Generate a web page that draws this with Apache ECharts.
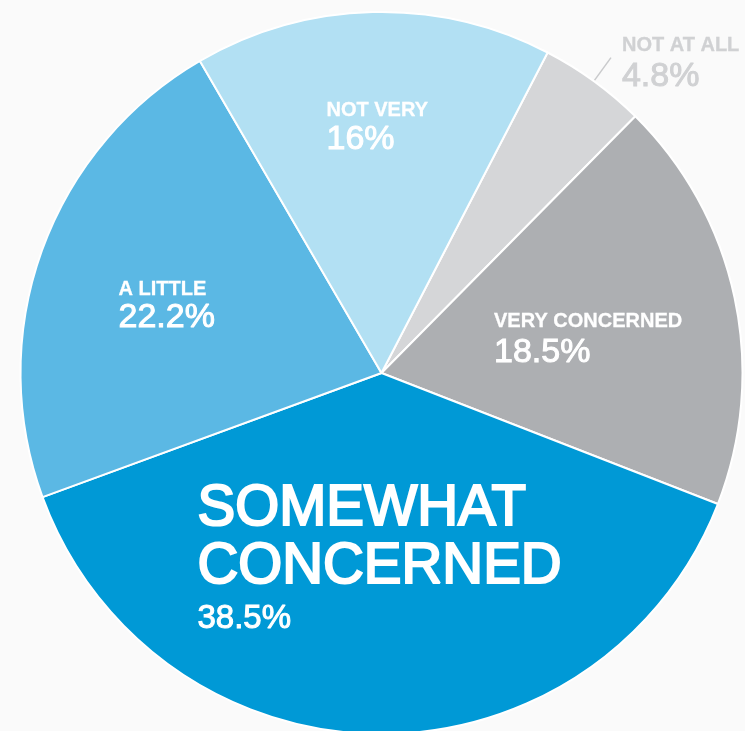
<!DOCTYPE html>
<html>
<head>
<meta charset="utf-8">
<script src="https://cdn.jsdelivr.net/npm/echarts@6/dist/echarts.min.js"></script>
<style>
  html, body { margin: 0; padding: 0; background: #fafafa; }
  #chart { width: 745px; height: 731px; }
</style>
</head>
<body>
<div id="chart"></div>
<script>
// Level of concern, share of respondents (%), clockwise from the small grey slice
const categories = ['NOT AT ALL', 'VERY CONCERNED', 'SOMEWHAT CONCERNED', 'A LITTLE', 'NOT VERY'];
const shares = [4.8, 18.5, 38.5, 22.2, 16];
const sliceColors = ['#d5d6d8', '#adafb2', '#0099d6', '#5bb8e4', '#b2e0f3'];

// Where each inside label block starts (top-left); the first label sits outside on a leader line
const labelSpots = [null, [494, 307], [197.5, 480], [118.5, 277], [326.5, 98.5]];
// Rich-text style used for each slice's name line
const nameKeys = ['nw', 'nw', 'big', 'n', 'n'];

const FONT = '"Liberation Sans", Arial, sans-serif';
const chart = echarts.init(document.getElementById('chart'), null, { renderer: 'canvas' });

const data = categories.map((name, i) => {
  const textColor = i === 0 ? '#d0d1d3' : '#ffffff';
  return {
    name,
    value: shares[i],
    itemStyle: { color: sliceColors[i] },
    label: i === 0
      ? { position: 'outside', color: textColor, textBorderColor: textColor, padding: [9, 0, 0, 0] }
      : { position: 'inside', color: textColor, textBorderColor: textColor },
    labelLine: { show: i === 0 }
  };
});

chart.setOption({
  backgroundColor: '#fafafa',
  animation: false,
  series: [{
    type: 'pie',
    center: [381.5, 373],
    radius: 361,
    startAngle: 62.6,
    clockwise: true,
    avoidLabelOverlap: false,
    emphasis: { disabled: true },
    itemStyle: { borderColor: '#ffffff', borderWidth: 2 },
    labelLine: {
      length: 29,
      length2: 0,
      lineStyle: { color: '#c9cacc', width: 1.5 }
    },
    label: {
      show: true,
      distanceToLabelLine: 11,
      fontFamily: FONT,
      formatter: p => {
        const key = nameKeys[p.dataIndex];
        if (key === 'big') {
          return p.name.split(' ').map(w => `{big|${w}}`).join('\n') + `\n{vb|${p.value}%}`;
        }
        return `{${key}|${p.name}}\n{v|${p.value}%}`;
      },
      rich: {
        n:   { fontFamily: FONT, fontSize: 20, fontWeight: 'bold', lineHeight: 24, textBorderWidth: 0.3 },
        nw:  { fontFamily: FONT, fontSize: 20, fontWeight: 'bold', lineHeight: 29, textBorderWidth: 0.3 },
        v:   { fontFamily: FONT, fontSize: 34, lineHeight: 34, textBorderWidth: 1 },
        big: { fontFamily: FONT, fontSize: 56.5, lineHeight: 58.4, textBorderWidth: 2.2 },
        vb:  { fontFamily: FONT, fontSize: 33, lineHeight: 45, textBorderWidth: 1 }
      }
    },
    labelLayout: params => {
      const spot = labelSpots[params.dataIndex];
      if (!spot) return {};
      return { x: spot[0], y: spot[1], align: 'left', verticalAlign: 'top' };
    },
    data
  }]
});
</script>
</body>
</html>
